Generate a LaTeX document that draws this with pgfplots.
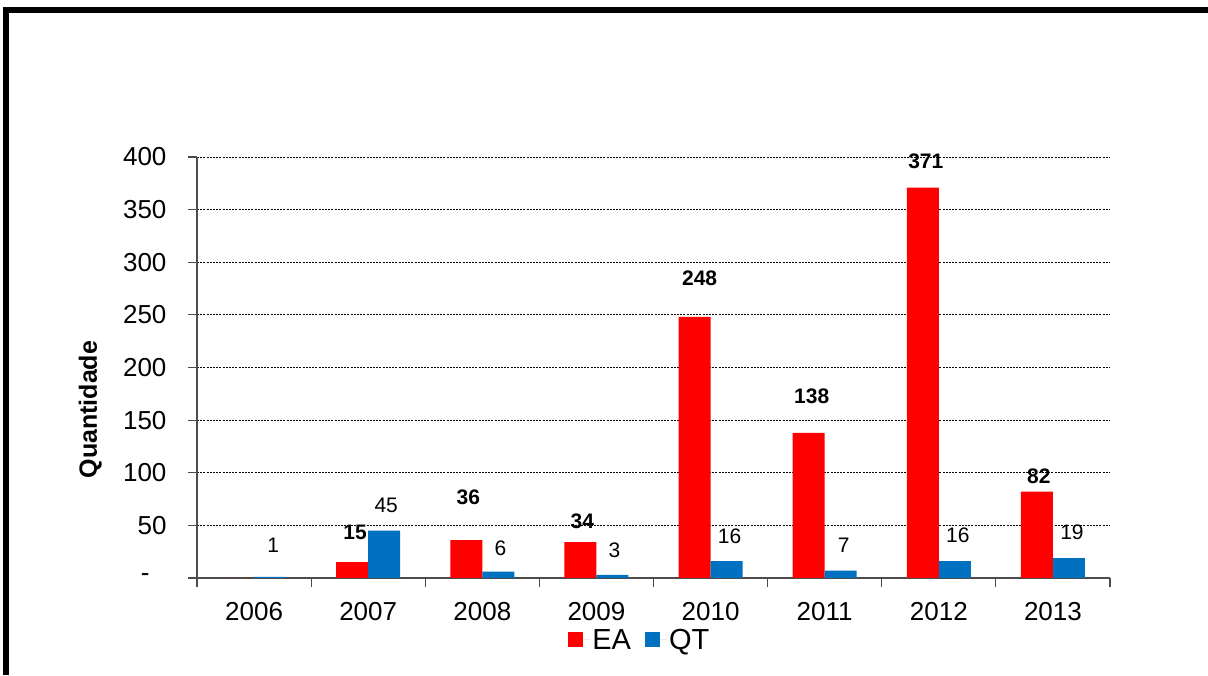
\documentclass[border=0pt]{standalone}
\usepackage{fontspec}
\setmainfont{Liberation Sans}
\usepackage{pgfplots}
\pgfplotsset{compat=1.18}
\definecolor{eared}{RGB}{255,0,0}
\definecolor{qtblue}{RGB}{0,112,192}
\begin{document}
\begin{tikzpicture}[x=1pt,y=1pt]
\useasboundingbox (0,0) rectangle (1208,675);
\draw[line width=6pt, line join=miter] (6,0) -- (6,665) -- (1210,665);
\begin{axis}[
  at={(197pt,97pt)}, anchor=south west,
  scale only axis, width=913pt, height=421pt,
  xmin=-0.5, xmax=7.5, ymin=0, ymax=400,
  axis x line=bottom, axis y line=left,
  axis line style={-, draw=black!70, line width=1.3pt},
  tick align=outside, major tick length=9pt,
  tick style={draw=black!70, line width=1.2pt},
  xtick={-0.5,0.5,...,7.5}, xticklabels={},
  extra x ticks={0,1,2,3,4,5,6,7},
  extra x tick labels={2006,2007,2008,2009,2010,2011,2012,2013},
  extra x tick style={major tick length=0pt, grid=none},
  xticklabel style={font=\fontsize{26}{31}\selectfont, yshift=-21pt},
  ytick={0,50,...,400},
  yticklabels={{-\rule{17pt}{0pt}},50,100,150,200,250,300,350,400},
  yticklabel style={font=\fontsize{26}{31}\selectfont, xshift=-18pt},
  ymajorgrids,
  major grid style={black, line width=0.9pt, dash pattern=on 2pt off 1.2pt},
  ylabel={\bfseries Quantidade},
  ylabel style={font=\fontsize{25}{30}\selectfont, at={(axis description cs:-0.117,0.4)}, anchor=center},
  legend style={at={(0.485,-0.147)}, anchor=center, draw=none, fill=none,
    legend columns=2, font=\fontsize{29}{34}\selectfont,
    /tikz/every even column/.append style={column sep=12pt},
    inner sep=0pt},
  legend image code/.code={\fill[#1] (0pt,-7.5pt) rectangle (15pt,7.5pt); \path (0pt,0pt) -- (22pt,0pt);},
  clip=false,
]
\addplot[ybar, bar width=32pt, bar shift=-16pt, fill=eared, draw=none]
  coordinates {(0,0) (1,15) (2,36) (3,34) (4,248) (5,138) (6,371) (7,82)};
\addlegendentry{EA}
\addplot[ybar, bar width=32pt, bar shift=16pt, fill=qtblue, draw=none]
  coordinates {(0,1) (1,45) (2,6) (3,3) (4,16) (5,7) (6,16) (7,19)};
\addlegendentry{QT}
% EA data labels (bold)
\addplot[draw=none, mark=none, forget plot, nodes near coords, point meta=explicit symbolic,
  nodes near coords style={anchor=center, font=\fontsize{21}{25}\selectfont\bfseries, inner sep=0pt}]
  table[meta=lab] {
x y lab
0.886 43 15
1.877 77 36
2.877 54 34
3.904 285 248
4.886 173 138
5.886 396 371
6.877 97 82
};
% QT data labels
\addplot[draw=none, mark=none, forget plot, nodes near coords, point meta=explicit symbolic,
  nodes near coords style={anchor=center, font=\fontsize{21}{25}\selectfont, inner sep=0pt}]
  table[meta=lab] {
x y lab
0.167 31 1
1.158 69 45
2.158 28.5 6
3.158 26.6 3
4.167 40 16
5.167 31 7
6.167 41 16
7.167 43 19
};
\end{axis}
\end{tikzpicture}
\end{document}
